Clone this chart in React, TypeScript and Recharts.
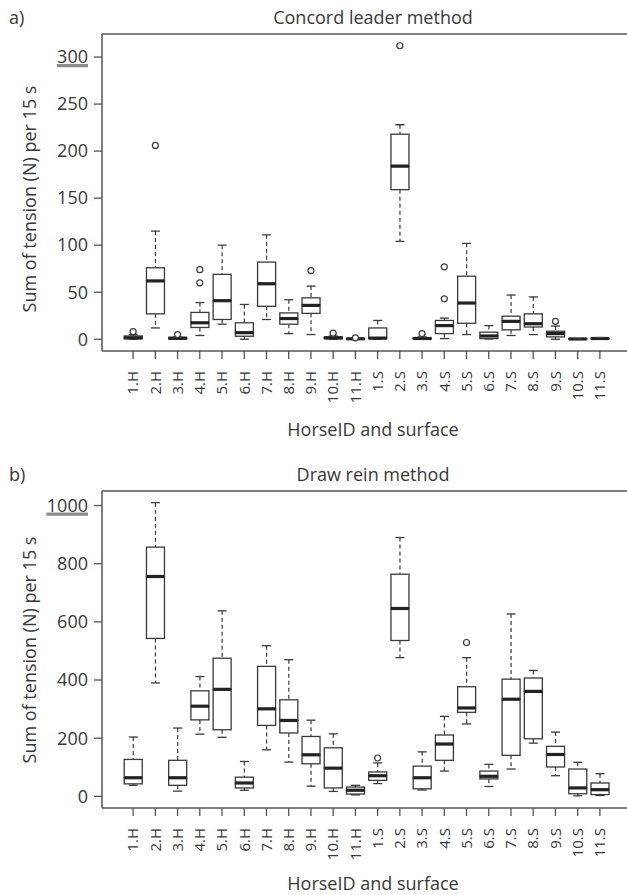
import { Bar, ComposedChart, ReferenceLine, Scatter, XAxis, YAxis } from 'recharts'

const categories = [
  '1.H', '2.H', '3.H', '4.H', '5.H', '6.H', '7.H', '8.H', '9.H', '10.H', '11.H',
  '1.S', '2.S', '3.S', '4.S', '5.S', '6.S', '7.S', '8.S', '9.S', '10.S', '11.S',
]

// a) Concord leader method
const concordLow = [0, 12, 0, 4, 16, 0, 21, 6, 5, 0, 0, 0, 104, 0, 0.7, 5, 0.3, 4, 5, 0, 0, 0]
const concordQ1 = [0.5, 27, 0.3, 12.5, 21, 3.2, 35, 16, 27.5, 0.5, 0.2, 0.5, 159, 0.3, 6, 17, 0.7, 10, 13, 2.5, 0.1, 0.3]
const concordMedian = [1.5, 62, 1, 17.5, 41, 7, 59, 22, 36, 1.5, 0.5, 1.2, 184, 0.8, 14.5, 38.5, 3.5, 19, 16.5, 6, 0.3, 0.8]
const concordQ3 = [3.5, 76, 2, 28.5, 69, 17.5, 82, 28, 44, 2.5, 0.8, 12, 218, 1.5, 20, 67, 7.5, 24.5, 27, 8.5, 0.5, 1.3]
const concordHigh = [5, 115, 2.5, 39, 100, 37, 111, 42, 56.5, 3.5, 1, 20, 228, 2.5, 22.5, 102, 14.5, 47, 45, 14, 0.7, 1.8]
const concordOutliers = [
  { name: '1.H', value: 8 },
  { name: '2.H', value: 206 },
  { name: '3.H', value: 5 },
  { name: '4.H', value: 74 },
  { name: '4.H', value: 60 },
  { name: '9.H', value: 73 },
  { name: '10.H', value: 6.5 },
  { name: '11.H', value: 1.5 },
  { name: '2.S', value: 312 },
  { name: '3.S', value: 6 },
  { name: '4.S', value: 77 },
  { name: '4.S', value: 43 },
  { name: '9.S', value: 19 },
]
const concordTicks = [0, 50, 100, 150, 200, 250, 300]

// b) Draw rein method
const drawLow = [38, 390, 18, 214, 203, 21, 160, 118, 35, 17, 5, 44, 477, 22, 87, 249, 34, 94, 183, 71, 2, 3]
const drawQ1 = [43, 543, 38, 263, 229, 29, 244, 218, 112, 29, 8, 55, 536, 26, 124, 289, 60, 141, 198, 101, 9, 6]
const drawMedian = [64, 756, 64, 310, 368, 46, 301, 261, 143, 97, 21, 71, 646, 64, 180, 304, 69, 334, 361, 144, 29, 23]
const drawQ3 = [127, 857, 124, 363, 475, 66, 447, 332, 206, 167, 32, 84, 764, 104, 211, 377, 87, 403, 407, 172, 94, 46]
const drawHigh = [204, 1010, 235, 412, 638, 120, 518, 470, 262, 215, 38, 115, 890, 153, 275, 477, 110, 627, 433, 221, 117, 78]
const drawOutliers = [
  { name: '1.S', value: 132 },
  { name: '5.S', value: 529 },
]
const drawTicks = [0, 200, 400, 600, 800, 1000]

type Outlier = { name: string; value: number }

function buildRows(low: number[], q1: number[], med: number[], q3: number[], high: number[]) {
  return categories.map((name, i) => ({
    name,
    base: low[i],
    whiskerLow: q1[i] - low[i],
    boxLow: med[i] - q1[i],
    boxHigh: q3[i] - med[i],
    whiskerHigh: high[i] - q3[i],
  }))
}

const INK = '#3a3a3a'
const TEXT = '#383838'

function WhiskerLow(props: any) {
  const { x, y, width, height } = props
  const cx = x + width / 2
  return (
    <g>
      <line x1={cx} x2={cx} y1={y} y2={y + height} stroke={INK} strokeWidth={1.2} strokeDasharray="4 3" />
      <line x1={cx - width / 4} x2={cx + width / 4} y1={y + height} y2={y + height} stroke={INK} strokeWidth={1.3} />
    </g>
  )
}

function WhiskerHigh(props: any) {
  const { x, y, width, height } = props
  const cx = x + width / 2
  return (
    <g>
      <line x1={cx} x2={cx} y1={y} y2={y + height} stroke={INK} strokeWidth={1.2} strokeDasharray="4 3" />
      <line x1={cx - width / 4} x2={cx + width / 4} y1={y} y2={y} stroke={INK} strokeWidth={1.3} />
    </g>
  )
}

function BoxLow(props: any) {
  const { x, y, width, height } = props
  return <rect x={x} y={y} width={width} height={height} fill="none" stroke={INK} strokeWidth={1.3} />
}

function BoxHigh(props: any) {
  const { x, y, width, height } = props
  return (
    <g>
      <rect x={x} y={y} width={width} height={height} fill="none" stroke={INK} strokeWidth={1.3} />
      <line x1={x} x2={x + width} y1={y + height} y2={y + height} stroke="#222" strokeWidth={3.2} />
    </g>
  )
}

function OutlierDot(props: any) {
  const { cx, cy } = props
  return <circle cx={cx} cy={cy} r={3} fill="#fff" stroke={INK} strokeWidth={1.2} />
}

function XTick(props: any) {
  const { x, y, payload } = props
  return (
    <text
      x={x}
      y={y}
      transform={`rotate(-90, ${x}, ${y})`}
      textAnchor="end"
      dy="0.35em"
      fontSize={15}
      fill={TEXT}
    >
      {payload.value}
    </text>
  )
}

function makeYTick(topValue: number) {
  return function YTick(props: any) {
    const { x, y, payload } = props
    const label = String(payload.value)
    const w = label.length * 10.4
    return (
      <g>
        <text x={x} y={y} textAnchor="end" dy="0.35em" fontSize={18} fill={TEXT}>
          {label}
        </text>
        {payload.value === topValue && (
          <rect x={x - w} y={y + 7} width={w} height={3.2} fill="#8c8c8c" />
        )}
      </g>
    )
  }
}

function BoxPanel({
  letter,
  title,
  rows,
  outliers,
  domain,
  ticks,
  yLabelY,
  xLabelY,
}: {
  letter: string
  title: string
  rows: ReturnType<typeof buildRows>
  outliers: Outlier[]
  domain: [number, number]
  ticks: number[]
  yLabelY: number
  xLabelY: number
}) {
  return (
    <ComposedChart
      width={640}
      height={445}
      data={rows}
      margin={{ top: 34, right: 9, bottom: 0, left: 0 }}
      barCategoryGap="10%"
    >
      <text x={9} y={24} fontSize={18} fill={TEXT}>
        {letter}
      </text>
      <text x={373} y={24} fontSize={18} fill={TEXT} textAnchor="middle">
        {title}
      </text>
      <text
        x={29}
        y={yLabelY}
        fontSize={18}
        fill={TEXT}
        textAnchor="middle"
        dominantBaseline="central"
        transform={`rotate(-90, 29, ${yLabelY})`}
      >
        Sum of tension (N) per 15 s
      </text>
      <text x={373} y={xLabelY} fontSize={18} fill={TEXT} textAnchor="middle">
        HorseID and surface
      </text>
      <XAxis
        dataKey="name"
        type="category"
        allowDuplicatedCategory={false}
        height={94}
        padding={{ left: 20, right: 20 }}
        interval={0}
        tickSize={8}
        tickMargin={12}
        tick={<XTick />}
        axisLine={{ stroke: '#555', strokeWidth: 1.5 }}
        tickLine={{ stroke: '#555', strokeWidth: 1.3 }}
      />
      <YAxis
        type="number"
        width={102}
        domain={domain}
        ticks={ticks}
        interval={0}
        allowDataOverflow
        tickSize={8}
        tickMargin={6}
        tick={makeYTick(ticks[ticks.length - 1])}
        axisLine={{ stroke: '#555', strokeWidth: 1.5 }}
        tickLine={{ stroke: '#555', strokeWidth: 1.3 }}
      />
      <ReferenceLine y={domain[1]} stroke="#555" strokeWidth={1.5} />
      <Bar dataKey="base" stackId="box" fill="none" isAnimationActive={false} />
      <Bar dataKey="whiskerLow" stackId="box" shape={WhiskerLow} isAnimationActive={false} />
      <Bar dataKey="boxLow" stackId="box" shape={BoxLow} isAnimationActive={false} />
      <Bar dataKey="boxHigh" stackId="box" shape={BoxHigh} isAnimationActive={false} />
      <Bar dataKey="whiskerHigh" stackId="box" shape={WhiskerHigh} isAnimationActive={false} />
      <Scatter data={outliers} dataKey="value" shape={OutlierDot} isAnimationActive={false} />
    </ComposedChart>
  )
}

const concordRows = buildRows(concordLow, concordQ1, concordMedian, concordQ3, concordHigh)
const drawRows = buildRows(drawLow, drawQ1, drawMedian, drawQ3, drawHigh)

export default function App() {
  return (
    <div
      style={{
        position: 'absolute',
        left: 0,
        top: 0,
        width: 627,
        height: 895,
        overflow: 'hidden',
        background: '#fff',
        fontFamily: '"Open Sans", sans-serif',
      }}
    >
      <div style={{ position: 'absolute', left: 0, top: 0 }}>
        <BoxPanel
          letter="a)"
          title="Concord leader method"
          rows={concordRows}
          outliers={concordOutliers}
          domain={[-12.5, 324.5]}
          ticks={concordTicks}
          yLabelY={199}
          xLabelY={436}
        />
      </div>
      <div style={{ position: 'absolute', left: 0, top: 457 }}>
        <BoxPanel
          letter="b)"
          title="Draw rein method"
          rows={drawRows}
          outliers={drawOutliers}
          domain={[-40, 1050]}
          ticks={drawTicks}
          yLabelY={193}
          xLabelY={433}
        />
      </div>
    </div>
  )
}
